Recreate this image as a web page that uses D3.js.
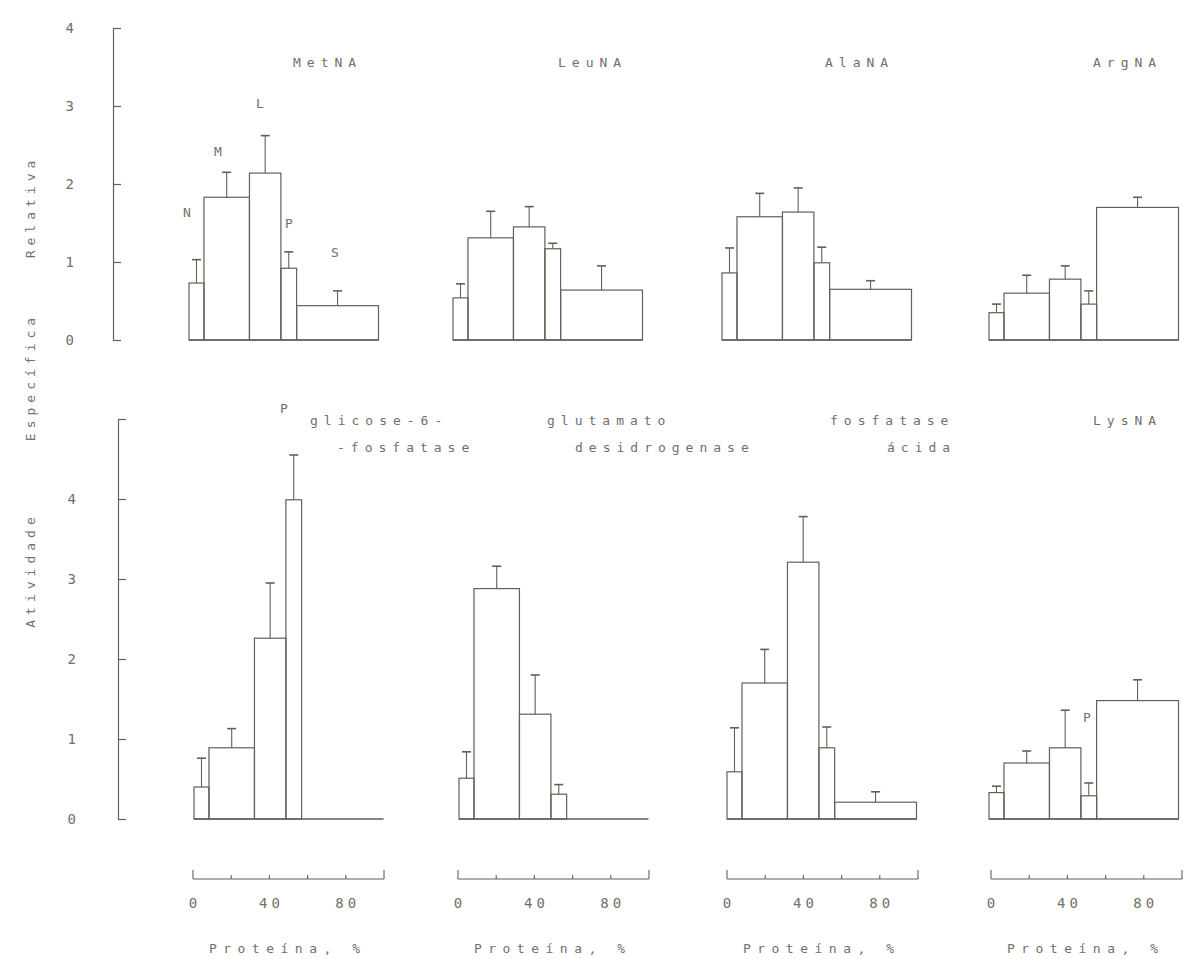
<!DOCTYPE html>
<html>
<head>
<meta charset="utf-8">
<script src="https://cdn.jsdelivr.net/npm/d3@7"></script>
<style>
  html, body { margin: 0; padding: 0; background: #ffffff; }
  svg { display: block; }
</style>
</head>
<body>
<svg id="chart" width="1187" height="959"></svg>
<script>
// ---------------- DATA ----------------
const categories = ["N", "M", "L", "P", "S"];
const proteinPct = [7.9, 24.0, 16.6, 8.3, 43.2];       // % of protein per fraction (bar widths)
const proteinTicks = [0, 20, 40, 60, 80, 100];
const proteinTickLabels = [0, 40, 80];
const topTicks = [0, 1, 2, 3, 4];
const bottomTicks = [0, 1, 2, 3, 4, 5];

const topPanelNames = [["MetNA"], ["LeuNA"], ["AlaNA"], ["ArgNA"]];
const bottomPanelNames = [["glicose-6-", "-fosfatase"], ["glutamato", "desidrogenase"], ["fosfatase", "ácida"], ["LysNA"]];

const metnaValues = [0.73, 1.83, 2.14, 0.92, 0.44];
const metnaErrors = [0.30, 0.32, 0.48, 0.21, 0.19];
const leunaValues = [0.54, 1.31, 1.45, 1.17, 0.64];
const leunaErrors = [0.18, 0.34, 0.26, 0.07, 0.31];
const alanaValues = [0.86, 1.58, 1.64, 0.99, 0.65];
const alanaErrors = [0.32, 0.30, 0.31, 0.20, 0.11];
const argnaValues = [0.35, 0.60, 0.78, 0.46, 1.70];
const argnaErrors = [0.11, 0.23, 0.17, 0.17, 0.13];

const g6paseValues = [0.40, 0.89, 2.26, 3.99, 0];
const g6paseErrors = [0.36, 0.24, 0.69, 0.56, 0];
const gdhValues = [0.51, 2.88, 1.31, 0.31, 0];
const gdhErrors = [0.33, 0.28, 0.49, 0.12, 0];
const acpValues = [0.59, 1.70, 3.21, 0.89, 0.21];
const acpErrors = [0.55, 0.42, 0.57, 0.26, 0.13];
const lysnaValues = [0.33, 0.70, 0.89, 0.29, 1.48];
const lysnaErrors = [0.08, 0.15, 0.47, 0.16, 0.26];

const yTitleWords = ["Atividade", "Específica", "Relativa"];
const xTitle = "Proteína, %";

// ---------------- LAYOUT ----------------
const LINE = "#616155";
const TEXT = "#707069";
const FONT = "'DejaVu Sans Mono', monospace";
const FS = 13;
const LS = 6;
const HIST_W = 189.5;
const SCALE_W = 191;

const svg = d3.select("#chart");

const rows = [
  {
    names: topPanelNames,
    values: [metnaValues, leunaValues, alanaValues, argnaValues],
    errors: [metnaErrors, leunaErrors, alanaErrors, argnaErrors],
    x0: [189, 453, 722, 989],
    y: d3.scaleLinear().domain([0, 4]).range([340, 28]),
    axisX: 113, ticks: topTicks, labelPad: 39,
    titleY: [67]
  },
  {
    names: bottomPanelNames,
    values: [g6paseValues, gdhValues, acpValues, lysnaValues],
    errors: [g6paseErrors, gdhErrors, acpErrors, lysnaErrors],
    x0: [194, 459, 727, 989],
    y: d3.scaleLinear().domain([0, 5]).range([819, 419]),
    axisX: 118, ticks: bottomTicks, labelPad: 42,
    titleY: [425, 452]
  }
];

const topTitleX = [[293], [558], [825], [1093]];
const bottomTitleX = [[310, 337], [547, 575], [830, 887], [1093]];

function styleText(sel) {
  return sel.attr("font-family", FONT).attr("font-size", FS)
    .attr("letter-spacing", LS).attr("fill", TEXT);
}

rows.forEach((row, ri) => {
  // y axis
  const axis = d3.axisLeft(row.y)
    .tickValues(row.ticks)
    .tickSizeInner(-8).tickSizeOuter(-8)
    .tickPadding(row.labelPad)
    .tickFormat(d => d === 5 ? "" : d);
  const ag = svg.append("g").attr("transform", `translate(${row.axisX},0)`).call(axis);
  ag.select(".domain").attr("stroke", LINE).attr("stroke-width", 1.2);
  ag.selectAll(".tick line").attr("stroke", LINE).attr("stroke-width", 1.2);
  ag.selectAll(".tick text").attr("font-family", FONT).attr("font-size", FS + 1)
    .attr("fill", TEXT).attr("text-anchor", "middle").attr("dx", "-0.3em");

  row.values.forEach((vals, pi) => {
    const x = d3.scaleLinear().domain([0, 100]).range([row.x0[pi], row.x0[pi] + HIST_W]);
    const y = row.y;
    const cum = [0, ...d3.cumsum(proteinPct)];
    const bars = categories.map((c, i) => ({
      c, x0: cum[i], x1: cum[i + 1], v: vals[i], e: row.errors[pi][i]
    }));
    const g = svg.append("g");

    // baseline
    g.append("line")
      .attr("x1", x(0)).attr("x2", x(100))
      .attr("y1", y(0)).attr("y2", y(0))
      .attr("stroke", LINE).attr("stroke-width", 1.3);

    // bars
    g.selectAll("rect").data(bars.filter(b => b.v > 0)).join("rect")
      .attr("x", b => x(b.x0)).attr("width", b => x(b.x1) - x(b.x0))
      .attr("y", b => y(b.v)).attr("height", b => y(0) - y(b.v))
      .attr("fill", "none").attr("stroke", LINE).attr("stroke-width", 1.2);

    // error bars
    const eb = bars.filter(b => b.e > 0);
    g.selectAll("line.err").data(eb).join("line").attr("class", "err")
      .attr("x1", b => x((b.x0 + b.x1) / 2)).attr("x2", b => x((b.x0 + b.x1) / 2))
      .attr("y1", b => y(b.v)).attr("y2", b => y(b.v + b.e))
      .attr("stroke", LINE).attr("stroke-width", 1.1);
    g.selectAll("line.cap").data(eb).join("line").attr("class", "cap")
      .attr("x1", b => x((b.x0 + b.x1) / 2) - 4.5).attr("x2", b => x((b.x0 + b.x1) / 2) + 4.5)
      .attr("y1", b => y(b.v + b.e)).attr("y2", b => y(b.v + b.e))
      .attr("stroke", LINE).attr("stroke-width", 1.6);

    // titles
    const names = row.names[pi];
    names.forEach((nm, li) => {
      const tx = ri === 0 ? topTitleX[pi][0] : bottomTitleX[pi][li];
      styleText(svg.append("text"))
        .attr("x", tx).attr("y", row.titleY[li]).text(nm);
    });
  });
});

// fraction labels in MetNA panel
const fracLabelPos = [[187, 212], [218, 151], [260, 103], [289, 223], [335, 252]];
categories.forEach((c, i) => {
  styleText(svg.append("text")).attr("letter-spacing", 0)
    .attr("x", fracLabelPos[i][0]).attr("y", fracLabelPos[i][1])
    .attr("dy", "0.35em").attr("text-anchor", "middle").text(c);
});
// P labels in bottom panels
[[284, 408], [1087, 717]].forEach(p => {
  styleText(svg.append("text")).attr("letter-spacing", 0)
    .attr("x", p[0]).attr("y", p[1]).attr("dy", "0.35em")
    .attr("text-anchor", "middle").text("P");
});

// protein scale bars
const scaleX0 = [193, 458, 727, 991];
scaleX0.forEach(sx => {
  const x = d3.scaleLinear().domain([0, 100]).range([sx, sx + SCALE_W]);
  const g = svg.append("g");
  const yb = 879;
  g.append("line").attr("x1", x(0)).attr("x2", x(100)).attr("y1", yb).attr("y2", yb)
    .attr("stroke", LINE).attr("stroke-width", 1.2);
  g.selectAll("line.t").data(proteinTicks).join("line").attr("class", "t")
    .attr("x1", d => x(d)).attr("x2", d => x(d))
    .attr("y1", yb).attr("y2", d => (d === 0 || d === 100) ? yb - 9 : yb - 4)
    .attr("stroke", LINE).attr("stroke-width", 1.1);
  g.selectAll("text.l").data(proteinTickLabels).join("text").attr("class", "l")
    .call(styleText).attr("letter-spacing", 4)
    .attr("x", d => x(d) + 2).attr("y", 908).attr("text-anchor", "middle")
    .attr("font-size", FS + 1)
    .text(d => d);
  styleText(g.append("text"))
    .attr("x", x(48) + 3).attr("y", 953).attr("text-anchor", "middle")
    .attr("letter-spacing", 6.5)
    .text(xTitle);
});

// y title
const yTitleCenters = [570, 377, 207];
yTitleWords.forEach((w, i) => {
  styleText(svg.append("text"))
    .attr("transform", `translate(30,${yTitleCenters[i]}) rotate(-90)`)
    .attr("text-anchor", "middle").attr("dy", "0.35em")
    .attr("letter-spacing", 5)
    .text(w);
});
</script>
</body>
</html>
